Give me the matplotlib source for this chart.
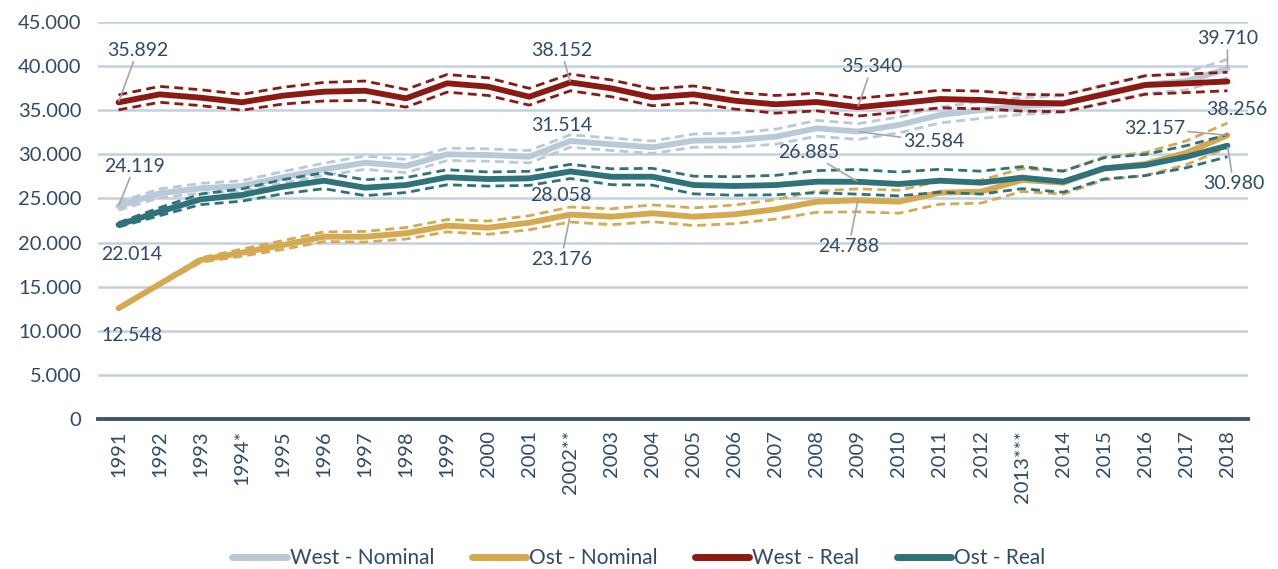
import matplotlib
matplotlib.use("Agg")
import matplotlib.pyplot as plt
from matplotlib.ticker import FuncFormatter, MultipleLocator

years = ["1991", "1992", "1993", "1994*", "1995", "1996", "1997", "1998", "1999", "2000",
         "2001", "2002**", "2003", "2004", "2005", "2006", "2007", "2008", "2009", "2010",
         "2011", "2012", "2013***", "2014", "2015", "2016", "2017", "2018"]

west_nominal = [24119, 25580, 26150, 26410, 27400, 28300, 29050, 28680, 30000, 29920,
                29730, 31514, 31140, 30800, 31550, 31620, 32000, 32950, 32584, 33330,
                34460, 35020, 35480, 35700, 36920, 37900, 38300, 39710]
ost_nominal = [12548, 15300, 18020, 18850, 19720, 20660, 20660, 21050, 21910, 21690,
               22250, 23176, 22930, 23320, 22930, 23200, 23770, 24630, 24788, 24630,
               25650, 25770, 27090, 26790, 28410, 28900, 30180, 32157]
west_real = [35892, 36800, 36420, 35900, 36650, 37100, 37210, 36350, 38050, 37670,
             36530, 38152, 37480, 36460, 36800, 36080, 35670, 35930, 35340, 35780,
             36270, 36160, 35850, 35780, 36800, 37860, 38050, 38256]
ost_real = [22014, 23500, 24900, 25390, 26330, 27010, 26220, 26520, 27400, 27200,
            27280, 28058, 27460, 27460, 26520, 26410, 26520, 26900, 26885, 26640,
            27010, 26790, 27360, 26900, 28410, 28790, 29730, 30980]

# half-widths of the dashed bands
west_nominal_spread = [450, 500, 550, 600, 650, 700, 750, 750, 700, 700, 700, 700, 700, 700,
                       750, 800, 850, 900, 900, 900, 900, 950, 950, 950, 1000, 1000, 1000, 1050]
ost_nominal_spread = [100, 150, 250, 400, 500, 550, 600, 650, 700, 750, 800, 850, 900, 950,
                      1000, 1050, 1100, 1200, 1300, 1300, 1300, 1300, 1300, 1300, 1300, 1300, 1350, 1400]
west_real_spread = [850, 900, 900, 900, 950, 1050, 1100, 1000, 1000, 1000, 950, 950, 950, 950,
                    950, 950, 1000, 1000, 1000, 1000, 1000, 1000, 950, 950, 1000, 1050, 1050, 1050]
ost_real_spread = [250, 450, 600, 700, 800, 900, 900, 850, 850, 800, 800, 800, 900, 950,
                   1000, 1050, 1100, 1250, 1400, 1350, 1300, 1300, 1250, 1200, 1200, 1200, 1250, 1250]

series_names = ["West - Nominal", "Ost - Nominal", "West - Real", "Ost - Real"]
colors = ["#B8C9D8", "#D4A94F", "#8B1A12", "#2E737A"]
TEXT = "#2E4A6B"
GRID = "#C3D1DE"
LEADER = "#A6A6A6"
FONT = "Lato"

plt.rcParams["font.family"] = [FONT, "DejaVu Sans"]

fig = plt.figure(figsize=(12.78, 5.69), dpi=100)
ax = fig.add_axes([98 / 1278, 1 - 419 / 569, (1248 - 98) / 1278, (419 - 22) / 569])

x = list(range(len(years)))
all_series = [west_nominal, ost_nominal, west_real, ost_real]
all_spreads = [west_nominal_spread, ost_nominal_spread, west_real_spread, ost_real_spread]

handles = []
for vals, spr, col, name in zip(all_series, all_spreads, colors, series_names):
    hi = [v + s for v, s in zip(vals, spr)]
    lo = [v - s for v, s in zip(vals, spr)]
    ln, = ax.plot(x, vals, color=col, lw=4.2, solid_capstyle="round",
                  solid_joinstyle="round", label=name, zorder=3)
    ax.plot(x, hi, color=col, lw=2.0, dashes=(3.2, 1.9), zorder=3)
    ax.plot(x, lo, color=col, lw=2.0, dashes=(3.2, 1.9), zorder=3)
    handles.append(ln)

ax.set_xlim(-0.5, len(years) - 0.5)
ax.set_ylim(0, 45000)
ax.yaxis.set_major_locator(MultipleLocator(5000))
ax.yaxis.set_major_formatter(FuncFormatter(lambda v, p: f"{int(v):,}".replace(",", ".")))
ax.set_xticks(x)
ax.set_xticklabels(years, rotation=90, fontsize=14.5, color=TEXT)
ax.tick_params(axis="y", labelsize=14.5, labelcolor=TEXT, length=0, pad=12)
ax.tick_params(axis="x", length=0, pad=8)
ax.grid(axis="y", color=GRID, lw=1.8)
ax.set_axisbelow(True)
for s in ["top", "right", "left"]:
    ax.spines[s].set_visible(False)
ax.spines["bottom"].set_color("#3B5573")
ax.spines["bottom"].set_linewidth(2.8)
ax.spines["bottom"].set_zorder(4)

# data labels: (series index, point index, offset px dx, dy, leader)
labels = [
    (2, 0, 19, 52, True), (0, 0, 16, 40, True), (3, 0, 13, -30, False), (1, 0, 13, -27, False),
    (2, 11, -9, 32, True), (0, 11, -9, 15, False), (3, 11, -9, -24.5, False), (1, 11, -9, -44.5, True),
    (2, 18, 14, 40.5, True), (0, 18, 76, -10, True), (3, 18, -49, 29.5, True), (1, 18, -9, -46, True),
    (0, 27, 0, 30, True), (2, 27, 9, -28.5, False), (1, 27, -73, 7, True), (3, 27, 6, -37.6, True),
]
for si, pi, dx, dy, lead in labels:
    v = all_series[si][pi]
    txt = f"{v:,}".replace(",", ".")
    kw = {}
    if lead:
        kw["arrowprops"] = dict(arrowstyle="-", color=LEADER, lw=1.2, shrinkA=0, shrinkB=1)
    ax.annotate(txt, xy=(pi, v), xytext=(dx, dy), textcoords="offset pixels",
                ha="center", va="center", fontsize=14, color=TEXT, zorder=5,
                annotation_clip=False, **kw)

leg = fig.legend(handles=handles, labels=series_names, loc="center",
                 bbox_to_anchor=(0.5, 1 - 558 / 569), ncol=4, frameon=False,
                 fontsize=15, handlelength=2.6, handletextpad=0.15, columnspacing=1.8)
for t in leg.get_texts():
    t.set_color(TEXT)
for h in leg.get_lines():
    h.set_linewidth(5)
    h.set_solid_capstyle("round")

fig.savefig("out.png", dpi=100)
